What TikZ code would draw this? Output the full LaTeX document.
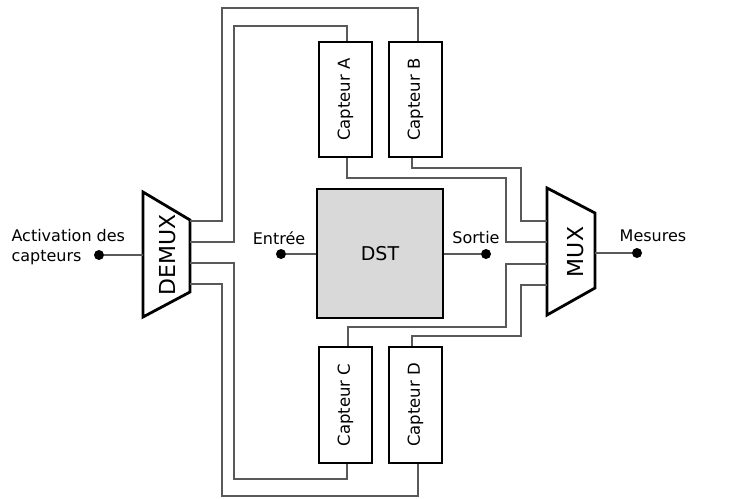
\documentclass[tikz,border=0pt]{standalone}
\usepackage{fontspec}
\setmainfont{DejaVu Sans}
\usepackage{graphicx}
\usetikzlibrary{positioning}

\begin{document}
\begin{tikzpicture}[
  x=1pt, y=-1pt,
  every node/.style={font=\fontsize{16}{20}\selectfont},
  wire/.style={draw=black!65, line width=1.8pt},
  capteur/.style={draw, line width=2.8pt, minimum width=53pt, minimum height=115pt, inner sep=0pt,
                  font=\fontsize{16.5}{20}\selectfont},
  pin/.style={circle, fill, inner sep=0pt, minimum size=10pt},
  muxlbl/.style={rotate=90, font=\fontsize{22}{24}\selectfont}
]
\useasboundingbox (0,0) rectangle (751,498);

% multiplexers
\draw[line width=2.8pt, line join=miter] (143,192) -- (190,220) -- (190,292) -- (143,317) -- cycle;
\draw[line width=2.8pt, line join=miter] (547,188) -- (595,213) -- (595,288) -- (547,315) -- cycle;
\node[muxlbl] (demux) at (168,255) {DEMUX};
\node[muxlbl] (mux) at (576,252) {MUX};

% demux outputs
\coordinate (d1) at (190,221);
\coordinate (d2) at (190,242);
\coordinate (d3) at (190,263);
\coordinate (d4) at (190,284);
\coordinate (din) at (143,255);

% mux inputs
\coordinate (m1) at (547,221);
\coordinate (m2) at (547,242);
\coordinate (m3) at (547,264);
\coordinate (m4) at (547,285);
\coordinate (mout) at (595,253);

% capteurs
\node[capteur] (ca) at (345.5,99.5) {\rotatebox{90}{Capteur A}};
\node[capteur] (cb) at (415.5,99.5) {\rotatebox{90}{Capteur B}};
\node[capteur, minimum height=116pt] (cc) at (345.5,405) {\rotatebox{90}{Capteur C}};
\node[capteur, minimum height=116pt] (cd) at (415.5,405) {\rotatebox{90}{Capteur D}};

% DST
\node[draw, line width=2.8pt, fill=black!15, minimum width=126pt, minimum height=129pt,
      font=\fontsize{19}{22}\selectfont] (dst) at (380,253.5) {DST};

% pins
\node[pin] (act) at (99,255) {};
\node[pin] (in) at (281,254) {};
\node[pin] (out) at (486,254) {};
\node[pin] (mes) at (637,253) {};

\node[align=left, anchor=west] (actlbl) at (8,247) {Activation des\\capteurs};
\node (inlbl) at (279,238) {Entrée};
\node (outlbl) at (476,238) {Sortie};
\node (meslbl) at (653,236) {Mesures};

% signal lines
\draw[wire] (act) -- (din);
\draw[wire] (in) -- (dst.west |- in);
\draw[wire] (dst.east |- out) -- (out);
\draw[wire] (mout) -- (mes);

% activation wires
\draw[wire] ([xshift=1.5]ca.north) |- (234,26) |- (d2);
\draw[wire] ([xshift=2.5]cb.north) |- (222,8) |- (d1);
\draw[wire] ([xshift=1.5]cc.south) |- (234,479) |- (d3);
\draw[wire] ([xshift=2.5]cd.south) |- (222,496) |- (d4);

% measure wires
\draw[wire] ([xshift=1.5]ca.south) |- (506,178) |- (m2);
\draw[wire] ([xshift=-3.5]cb.south) |- (521,168) |- (m1);
\draw[wire] ([xshift=2.5]cc.north) |- (506,327) |- (m3);
\draw[wire] ([xshift=-3.5]cd.north) |- (521,336) |- (m4);

\end{tikzpicture}
\end{document}
